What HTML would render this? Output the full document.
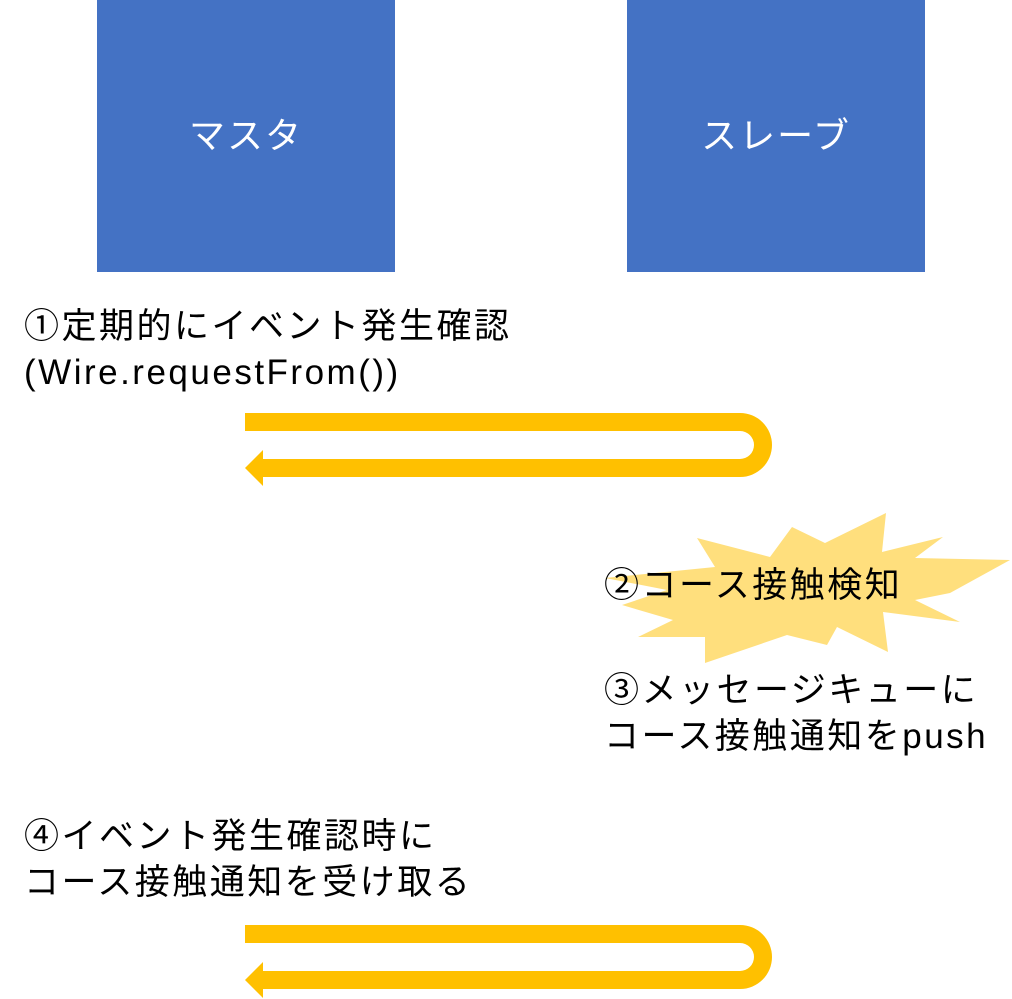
<!DOCTYPE html>
<html><head><meta charset="utf-8"><style>
body{margin:0;width:1012px;height:999px;background:#fff;position:relative;overflow:hidden;font-family:"Liberation Sans","Noto Sans CJK JP",sans-serif;}
.box{position:absolute;top:0;width:298px;height:266px;background:#4472C4;color:#fff;font-size:36px;display:flex;align-items:center;justify-content:center;letter-spacing:2px;border-bottom:6px solid #4472C4;}
.t{position:absolute;font-size:35px;line-height:46px;color:#000;letter-spacing:2.5px;white-space:nowrap;}
svg{position:absolute;left:0;top:0;}
</style></head><body>
<svg width="1012" height="999">
<polygon fill="#FFD966" opacity="0.85" points="886,513 882,552 943,537 915,558 1010,560 950,593 915,600 960,622 883,612 888,652 837,627 827,645 787,635 705,663 705,637 638,637 673,620 622,605 667,590 605,578 715,567 697,538 770,557 792,527 825,543"/>
<g fill="#FFC000">
<path d="M245,413 H740 A32,32 0 0 1 740,477 H263 V486 L245,468 L263,450 V459 H740 A14,14 0 0 0 740,431 H245 Z"/>
</g>
<g fill="#FFC000" transform="translate(0,512)">
<path d="M245,413 H740 A32,32 0 0 1 740,477 H263 V486 L245,468 L263,450 V459 H740 A14,14 0 0 0 740,431 H245 Z"/>
</g>
</svg>
<div class="box" style="left:97px">マスタ</div>
<div class="box" style="left:627px">スレーブ</div>
<div class="t" style="left:24px;top:304px">①定期的にイベント発生確認<br>(Wire.requestFrom())</div>
<div class="t" style="left:604px;top:563px">②コース接触検知</div>
<div class="t" style="left:604px;top:668px">③メッセージキューに<br>コース接触通知をpush</div>
<div class="t" style="left:24px;top:814px">④イベント発生確認時に<br>コース接触通知を受け取る</div>
</body></html>
